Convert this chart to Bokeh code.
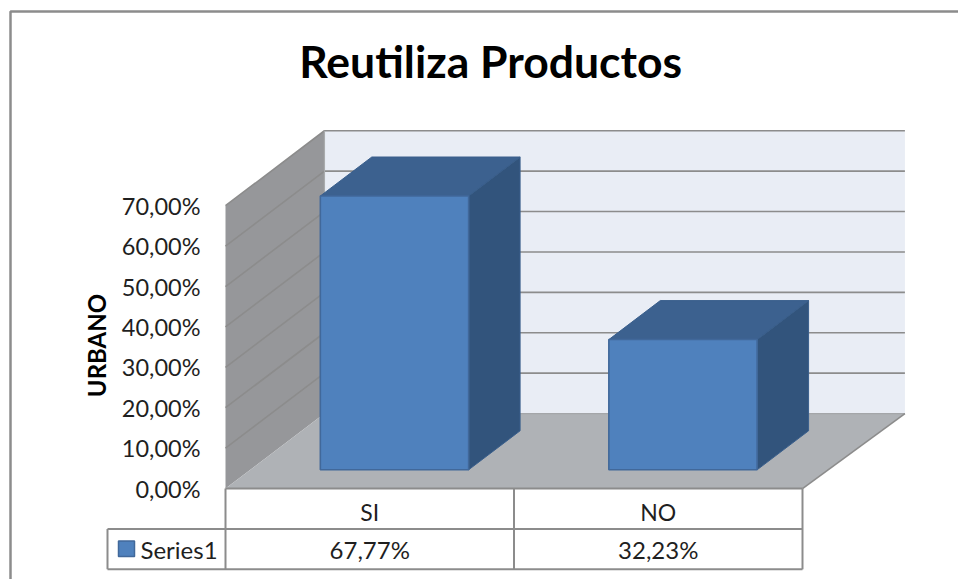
from bokeh.core.properties import value
from bokeh.embed import file_html
from bokeh.models import BoxAnnotation, FixedTicker, Label, LinearAxis, Range1d
from bokeh.plotting import figure
from bokeh.resources import INLINE
import math

TITLE = "Reutiliza Productos"
AXIS_TITLE = "URBANO"
SERIES_NAME = "Series1"
CATEGORIES = ["SI", "NO"]
VALUES = [67.77, 32.23]
TICKS = [0, 10, 20, 30, 40, 50, 60, 70]

FONT = "Lato"
TEXT = "#1f1f1f"
LINE = "#8c8c8c"
BAR_FILL = "#4f81bd"
BAR_EDGE = "#41689a"

# Oblique projection: full depth of the box, in x and y data units.
DEPTH_X = 0.343
DEPTH_Y = 18.56
BAR_HALF = 0.257
BAR_D0, BAR_D1 = 0.25, 0.77
BACK_EXTRA = 0.012


def px(x, d=0.0):
    return x + d * DEPTH_X


def py(v, d=0.0):
    return v + d * DEPTH_Y


def pct(v):
    return f"{v:.2f}".replace(".", ",") + "%"


n = len(CATEGORIES)
top = TICKS[-1]

# The frame fills the page; one x unit is a table column, one y unit is one percent.
UX = 1 / 288.5
UY = 1 / 4.04
X0, X1 = -225 * UX, 733 * UX
Y0, Y1 = -22.52, 120.8

p = figure(width=958, height=579, output_backend="svg", toolbar_location=None,
           x_range=Range1d(X0, X1), y_range=Range1d(Y0, Y1),
           x_axis_location=None, y_axis_location=None,
           min_border_left=0, min_border_right=0, min_border_top=0, min_border_bottom=0)
p.grid.visible = False
p.outline_line_color = None
p.background_fill_color = "white"

# Value axis with comma decimals; the negative standoff pulls it inside the frame.
yaxis = LinearAxis(ticker=FixedTicker(ticks=TICKS),
                   major_label_overrides={t: pct(t) for t in TICKS},
                   axis_line_color=None, major_tick_line_color=None, minor_tick_line_color=None,
                   major_label_standoff=-206, major_label_text_font=FONT,
                   major_label_text_font_size="23.5px", major_label_text_color=TEXT)
p.add_layout(yaxis, "left")

# Box: back wall, side wall, floor.
back_r = px(n, 1) + BACK_EXTRA
p.patch([px(0, 1), back_r, back_r, px(0, 1)], [py(0, 1), py(0, 1), py(top, 1), py(top, 1)],
        fill_color="#e9edf5", line_color=None)
p.patch([px(0), px(0, 1), px(0, 1), px(0)], [py(0), py(0, 1), py(top, 1), py(top)],
        fill_color="#96979a", line_color=None)
p.patch([px(0), px(n), back_r, px(0, 1)], [py(0), py(0), py(0, 1), py(0, 1)],
        fill_color="#afb2b6", line_color=None)

# Gridlines run along the side wall and across the back wall.
for t in TICKS:
    if t == 0:
        continue
    p.line([px(0), px(0, 1), back_r], [py(t), py(t, 1), py(t, 1)], line_color=LINE, line_width=1.6)
p.line([px(0, 1), px(0, 1)], [py(0, 1), py(top, 1)], line_color="#a9abad", line_width=1.2)
p.line([px(0, 1), back_r], [py(0, 1), py(0, 1)], line_color="#a4a6a9", line_width=1.2)
p.line([back_r, px(n)], [py(0, 1), py(0)], line_color=LINE, line_width=1.6)

# Bars: front, top and right faces projected from each value.
for i, v in enumerate(VALUES):
    x0 = i + 0.5 - BAR_HALF
    x1 = i + 0.5 + BAR_HALF
    p.patch([px(x0, BAR_D0), px(x1, BAR_D0), px(x1, BAR_D1), px(x0, BAR_D1)],
            [py(v, BAR_D0), py(v, BAR_D0), py(v, BAR_D1), py(v, BAR_D1)],
            fill_color="#3c618f", line_color="#3a5f8c", line_width=1)
    p.patch([px(x1, BAR_D0), px(x1, BAR_D1), px(x1, BAR_D1), px(x1, BAR_D0)],
            [py(0, BAR_D0), py(0, BAR_D1), py(v, BAR_D1), py(v, BAR_D0)],
            fill_color="#32547c", line_color="#3a5f8c", line_width=1)
    p.patch([px(x0, BAR_D0), px(x1, BAR_D0), px(x1, BAR_D0), px(x0, BAR_D0)],
            [py(0, BAR_D0), py(0, BAR_D0), py(v, BAR_D0), py(v, BAR_D0)],
            fill_color=BAR_FILL, line_color=BAR_EDGE, line_width=1.6)

# Data table below the box, with the series cell on its left.
ROW1, ROW2 = -10, -20
KEY_X = -118 * UX
p.line([0, n], [0, 0], line_color=LINE, line_width=2)
for y in (ROW1, ROW2):
    p.line([KEY_X, n], [y, y], line_color=LINE, line_width=2)
for x in range(n + 1):
    p.line([x, x], [0, ROW2], line_color=LINE, line_width=2)
p.line([KEY_X, KEY_X], [ROW1, ROW2], line_color=LINE, line_width=2)

xs = [i + 0.5 for i in range(n)]
p.text(xs, [ROW1 / 2 - 0.9] * n, text=CATEGORIES, text_align="center", text_baseline="middle",
       text_font=value(FONT), text_font_size="23px", text_color=TEXT)
p.text(xs, [(ROW1 + ROW2) / 2] * n, text=[pct(v) for v in VALUES], text_align="center",
       text_baseline="middle", text_font=value(FONT), text_font_size="24px", text_color=TEXT)

p.text([0.919], [106], text=[TITLE], text_align="center", text_baseline="middle",
       text_font=value(FONT), text_font_style="bold", text_font_size="44.5px", text_color="black")

# Value-axis title, centred on the value scale.
p.text([-129 * UX], [top / 2 + 0.4], text=[AXIS_TITLE], angle=[math.pi / 2], text_align="center",
       text_baseline="middle", text_font=value(FONT), text_font_style="bold",
       text_font_size="24px", text_color="black")

# Page frame.
p.add_layout(BoxAnnotation(left=X0 + 10 * UX, right=X1 + 50 * UX, top=Y1 - 11 * UY, bottom=Y0 - 50 * UY,
                           fill_alpha=0, line_color=LINE, line_alpha=1, line_width=2.5))

# Series key.
p.add_layout(BoxAnnotation(left=-107 * UX, right=-91 * UX, top=-13, bottom=-16.8,
                           fill_color=BAR_FILL, fill_alpha=1, line_color=BAR_EDGE, line_alpha=1,
                           line_width=1.5))
p.add_layout(Label(x=-85 * UX, y=(ROW1 + ROW2) / 2, text=SERIES_NAME, text_align="left",
                   text_baseline="middle", text_font=FONT, text_font_size="24px", text_color=TEXT))

open("out.html", "w").write(file_html(p, INLINE))
